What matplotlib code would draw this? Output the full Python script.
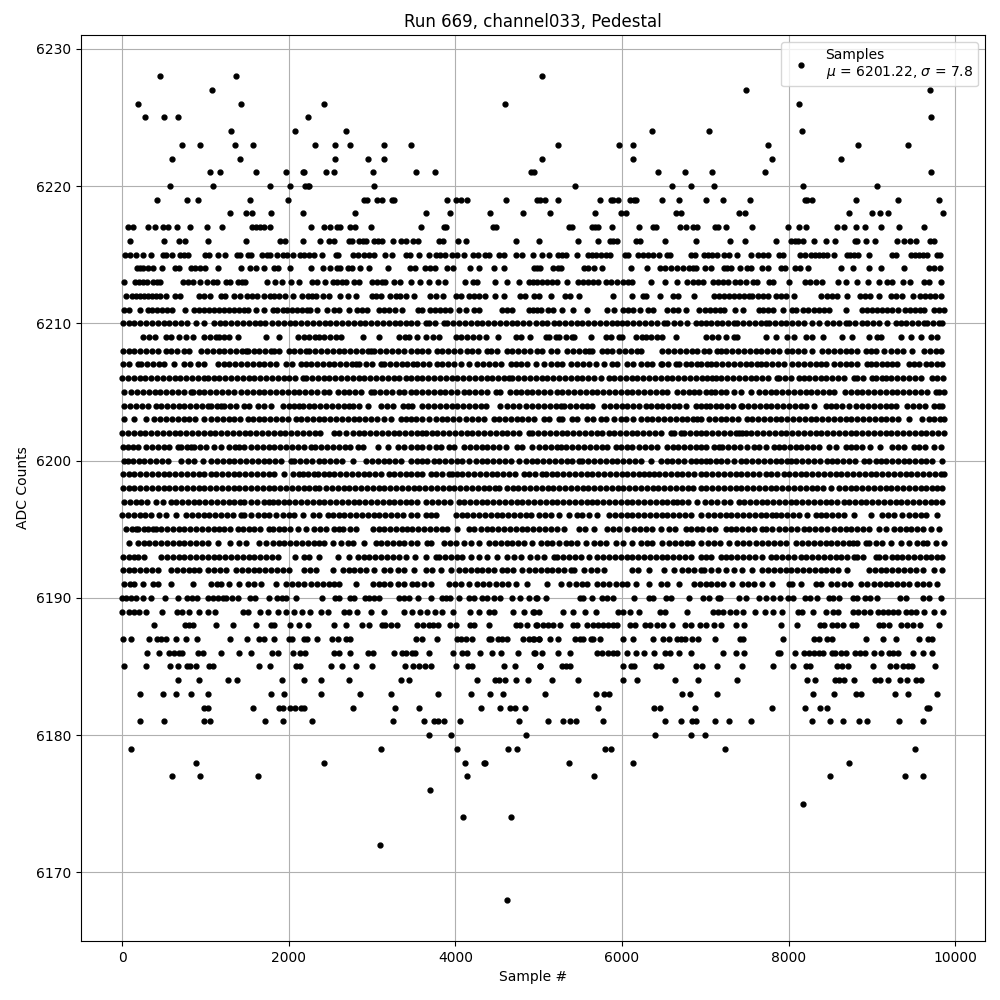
import numpy as np
import matplotlib
matplotlib.use('Agg')
import matplotlib.pyplot as plt

# sample numbers, one list per ADC level
s6228 = [452, 1364, 5040]
s6227 = [1076, 7488, 9700]
s6226 = [188, 1424, 2420, 4592, 8124]
s6225 = [272, 500, 668, 2228, 9708]
s6224 = [1304, 2072, 2684, 6360, 7044, 8160]
s6223 = [716, 932, 1352, 1568, 2312, 2552, 2732, 3140, 3464, 5232, 5964, 6132, 7752, 8832, 9432]
s6222 = [596, 1412, 2552, 2948, 3140, 5040, 6132, 7800, 8628]
s6221 = [1052, 1172, 1604, 1968, 2168, 2188, 2444, 2540, 3008, 3524, 3752, 4912, 4940, 6432, 6756, 7080, 7716, 9708]
s6220 = [572, 1088, 1772, 2012, 2200, 2228, 2248, 3020, 5436, 6600, 6828, 7104, 8172, 9060]
s6219 = [416, 776, 908, 1532, 1988, 2900, 2940, 3056, 3116, 3236, 3268, 3896, 4012, 4068, 4140, 4604, 4980, 5012, 5076,
         5232, 5736, 5868, 5892, 5952, 6096, 6140, 6172, 6480, 6684, 7008, 7212, 7536, 8196, 8220, 8280, 8808, 9312, 9804]
s6218 = [1292, 1492, 1560, 1784, 2168, 2792, 3644, 3932, 4412, 4808, 5136, 5676, 5988, 6048, 6648, 6708, 7404, 7476, 8724,
         9000, 9096, 9192, 9852]
s6217 = [76, 132, 308, 392, 488, 548, 656, 812, 1016, 1196, 1556, 1604, 1652, 1700, 1772, 2264, 2420, 2500, 2580, 2620,
         2732, 2792, 2984, 3584, 3860, 3884, 4452, 4488, 5364, 5400, 5640, 5676, 5712, 5880, 6204, 6372, 6412, 6696, 6768,
         6852, 6900, 7116, 7152, 7248, 7560, 7992, 8124, 8208, 8580, 8664, 8808, 8916, 9108, 9324, 9624]
s6216 = [92, 500, 680, 752, 1028, 1484, 1892, 1952, 2168, 2372, 2480, 2540, 2720, 2760, 2840, 2888, 2932, 3020, 3068, 3120,
         3248, 3344, 3404, 3488, 3548, 3800, 3848, 4028, 4124, 4724, 5004, 5472, 5712, 5856, 5892, 5940, 6168, 6216, 6516,
         6888, 7296, 7476, 7848, 8028, 8076, 8112, 8172, 8304, 8448, 8556, 8796, 8820, 8928, 9036, 9300, 9384, 9456, 9528,
         9696, 9744]
s6215 = [40, 100, 164, 248, 344, 488, 524, 596, 692, 740, 788, 992, 1040, 1148, 1232, 1380, 1412, 1508, 1548, 1680, 1740,
         1780, 1860, 1932, 1980, 2052, 2140, 2188, 2244, 2300, 2396, 2564, 2596, 2768, 2828, 2900, 2960, 3020, 3152, 3240,
         3404, 3460, 3560, 3680, 3764, 3820, 3872, 3960, 4020, 4100, 4208, 4272, 4356, 4404, 4520, 4580, 4724, 4796, 4932,
         5040, 5124, 5232, 5280, 5328, 5456, 5592, 5640, 5688, 5748, 5808, 5856, 6036, 6072, 6192, 6252, 6312, 6372, 6444,
         6540, 6576, 6828, 6876, 6984, 7032, 7080, 7140, 7224, 7284, 7380, 7548, 7632, 7692, 7752, 7884, 7932, 8136, 8196,
         8268, 8316, 8364, 8412, 8460, 8544, 8700, 8732, 8784, 8832, 8964, 9240, 9292, 9468, 9516, 9564, 9612, 9660, 9780, 9812]
s6214 = [180, 220, 248, 308, 372, 476, 632, 680, 824, 872, 932, 992, 1148, 1424, 1532, 1604, 1700, 1820, 1868, 2012, 2264,
         2408, 2492, 2580, 2620, 2708, 2760, 2852, 2964, 3188, 3452, 3512, 3632, 3692, 3752, 3896, 3968, 4172, 4280, 4460,
         4580, 4944, 4980, 5020, 5172, 5232, 5272, 5544, 5592, 5664, 5760, 6108, 6300, 6456, 6516, 6588, 6660, 6732, 6804,
         6852, 6888, 6996, 7068, 7224, 7260, 7308, 7416, 7500, 7548, 7680, 7752, 7908, 7956, 8076, 8136, 8232, 8628, 8772,
         8964, 9108, 9384, 9684, 9744, 9816]
s6213 = [20, 152, 200, 248, 300, 368, 416, 460, 728, 788, 848, 932, 1024, 1088, 1136, 1244, 1292, 1388, 1436, 1476, 1736,
         1832, 1916, 2024, 2120, 2276, 2340, 2432, 2528, 2580, 2640, 2684, 2780, 2840, 2996, 3060, 3120, 3160, 3260, 3332,
         3464, 3580, 3680, 3788, 3872, 4112, 4208, 4260, 4472, 4616, 4764, 4880, 4932, 4980, 5040, 5100, 5160, 5220, 5340,
         5472, 5532, 5592, 5652, 5712, 5808, 5868, 5940, 6012, 6072, 6120, 6348, 6516, 6660, 6780, 6852, 6912, 6972, 7092,
         7152, 7212, 7272, 7356, 7412, 7492, 7572, 7620, 7764, 7812, 8004, 8196, 8252, 8332, 8400, 8592, 8688, 8820, 8948,
         9084, 9180, 9244, 9372, 9456, 9624, 9684, 9828]
s6212 = [44, 116, 164, 212, 260, 308, 356, 404, 452, 524, 632, 692, 920, 980, 1052, 1184, 1232, 1340, 1412, 1500, 1560, 1620,
         1700, 1772, 1820, 1880, 1952, 2048, 2156, 2228, 2276, 2324, 2408, 2480, 2612, 2708, 2804, 3000, 3044, 3104, 3212,
         3284, 3340, 3404, 3500, 3692, 3764, 3848, 4004, 4064, 4160, 4220, 4280, 4360, 4472, 4580, 4780, 4832, 4944, 5004,
         5144, 5316, 5380, 5484, 5892, 6120, 6252, 6292, 6456, 6612, 6672, 6864, 7104, 7164, 7224, 7284, 7344, 7404, 7464,
         7524, 7560, 7632, 7692, 7752, 7848, 7908, 7968, 8064, 8392, 8460, 8520, 8580, 8700, 8856, 8916, 8976, 9084, 9228,
         9288, 9360, 9492, 9576, 9636, 9696, 9756, 9828]
s6211 = [20, 80, 220, 308, 360, 420, 480, 540, 600, 760, 860, 920, 980, 1040, 1100, 1160, 1220, 1280, 1340, 1400, 1460, 1508,
         1604, 1700, 1808, 1860, 1928, 1980, 2040, 2100, 2160, 2220, 2260, 2340, 2456, 2540, 2600, 2720, 2820, 2880, 2936,
         3080, 3140, 3200, 3280, 3360, 3548, 3604, 3700, 3760, 3820, 3880, 3940, 4040, 4124, 4220, 4280, 4560, 4620, 4680,
         4880, 4932, 4980, 5032, 5112, 5172, 5280, 5412, 5580, 5820, 5904, 6012, 6072, 6132, 6216, 6312, 6372, 6540, 6612,
         6672, 6768, 6924, 6992, 7052, 7112, 7172, 7224, 7356, 7452, 7644, 7692, 7752, 7812, 7932, 8040, 8092, 8172, 8232,
         8304, 8364, 8424, 8484, 8688, 8880, 8940, 9000, 9060, 9120, 9180, 9240, 9312, 9392, 9452, 9512, 9576, 9624, 9744,
         9804, 9864]
s6210 = [8, 78, 148, 218, 288, 358, 428, 498, 568, 638, 708, 778, 890, 980, 1100, 1170, 1240, 1310, 1380, 1450, 1520, 1590,
         1660, 1720, 1800, 1870, 1940, 2010, 2080, 2150, 2220, 2290, 2360, 2430, 2500, 2570, 2640, 2710, 2780, 2850, 2920,
         2990, 3060, 3130, 3200, 3270, 3340, 3410, 3468, 3540, 3645, 3685, 3755, 3865, 3905, 3975, 4045, 4115, 4185, 4255,
         4325, 4395, 4465, 4535, 4605, 4675, 4745, 4815, 4885, 4965, 5035, 5105, 5185, 5245, 5315, 5385, 5455, 5525, 5595,
         5665, 5735, 5805, 5875, 5945, 6005, 6065, 6135, 6205, 6275, 6345, 6425, 6505, 6545, 6625, 6695, 6785, 6885, 6945,
         7004, 7074, 7144, 7204, 7274, 7344, 7384, 7454, 7524, 7594, 7664, 7724, 7764, 7834, 7904, 7974, 8044, 8114, 8184,
         8284, 8364, 8464, 8534, 8604, 8684, 8724, 8794, 8884, 8944, 9014, 9084, 9184, 9284, 9354, 9404, 9484, 9554, 9624,
         9664, 9734, 9804, 9844]
s6209 = [248, 328, 398, 528, 588, 688, 768, 848, 988, 1058, 1128, 1168, 1228, 1288, 1388, 1728, 1888, 2108, 2178, 2248, 2318,
         2368, 2428, 2498, 2568, 2628, 2896, 3088, 3328, 3398, 3445, 3537, 3645, 3737, 3805, 4005, 4065, 4145, 4215, 4285,
         4365, 4517, 4725, 4785, 4897, 5085, 5125, 5205, 5245, 5325, 5395, 5425, 5625, 5805, 5865, 5965, 6005, 6165, 6235,
         6285, 6345, 6415, 6485, 6645, 7004, 7084, 7156, 7252, 7344, 7384, 7732, 7852, 7984, 8064, 8212, 8284, 8412, 8644,
         8764, 8964, 9064, 9104, 9344, 9464, 9584, 9704, 9784]
s6208 = [8, 78, 148, 218, 288, 358, 428, 528, 588, 658, 748, 808, 948, 1018, 1088, 1168, 1228, 1298, 1368, 1438, 1488, 1508,
         1578, 1648, 1718, 1788, 1828, 1888, 2008, 2068, 2140, 2208, 2248, 2318, 2388, 2458, 2528, 2598, 2668, 2738, 2808,
         2878, 2948, 2988, 3028, 3098, 3168, 3238, 3308, 3378, 3468, 3535, 3605, 3675, 3785, 3845, 3915, 3985, 4055, 4145,
         4205, 4275, 4385, 4425, 4495, 4625, 4685, 4755, 4825, 4895, 4985, 5045, 5145, 5225, 5345, 5415, 5485, 5555, 5605,
         5645, 5765, 5817, 5885, 5965, 6035, 6105, 6175, 6225, 6485, 6555, 6625, 6695, 6765, 6835, 6905, 6984, 7044, 7144,
         7184, 7254, 7324, 7394, 7464, 7534, 7604, 7674, 7744, 7814, 7884, 7984, 8044, 8114, 8184, 8284, 8404, 8474, 8544,
         8614, 8684, 8754, 8824, 8924, 8984, 9044, 9144, 9224, 9304, 9374, 9484, 9624, 9694, 9764, 9824]
s6207 = [8, 78, 188, 228, 298, 368, 438, 508, 628, 748, 818, 908, 980, 1148, 1218, 1288, 1358, 1428, 1498, 1568, 1638, 1708,
         1778, 1848, 1968, 2040, 2148, 2208, 2268, 2338, 2408, 2478, 2548, 2618, 2688, 2758, 2808, 2848, 2928, 2998, 3108,
         3148, 3218, 3288, 3358, 3425, 3497, 3545, 3615, 3685, 3785, 3845, 3915, 3985, 4065, 4165, 4265, 4335,
         4405, 4475, 4545, 4665, 4725, 4785, 4857, 4965, 5065, 5145, 5215, 5285, 5385, 5465, 5535, 5605, 5685, 5785, 5885,
         5945, 6065, 6137, 6225, 6295, 6365, 6465, 6485, 6555, 6645, 6685, 6765, 6825, 6895, 6945, 7024,
         7064, 7134, 7204, 7274, 7344, 7414, 7484, 7554, 7624, 7664, 7734, 7804, 7874, 7944, 8044, 8114, 8184, 8254, 8324,
         8384, 8452, 8544, 8614, 8684, 8754, 8824, 8944, 8984, 9054, 9124, 9184, 9244, 9304, 9444, 9504, 9564, 9644, 9714,
         9784, 9844]
s6206 = [0, 70, 140, 210, 280, 350, 420, 490, 560, 630, 700, 770, 840, 910, 988, 1028, 1098, 1168, 1238, 1308, 1378, 1448,
         1518, 1588, 1658, 1728, 1798, 1868, 1938, 2008, 2078, 2168, 2208, 2278, 2348, 2418, 2488, 2558, 2628, 2698, 2768,
         2838, 2908, 2978, 3048, 3118, 3188, 3258, 3328, 3408, 3465, 3535, 3605, 3675, 3745, 3815, 3885, 3955, 4025, 4095,
         4165, 4235, 4305, 4375, 4445, 4515, 4585, 4645, 4685, 4755, 4825, 4895, 4965, 5035, 5105, 5175, 5245, 5315, 5385,
         5455, 5525, 5595, 5665, 5745, 5845, 5905, 5975, 6045, 6115, 6185, 6255, 6325, 6395, 6465, 6535, 6605, 6675, 6745,
         6815, 6885, 6955, 7025, 7084, 7124, 7194, 7264, 7334, 7404, 7474, 7544, 7614, 7684, 7754, 7864, 7884, 7954, 8024,
         8124, 8184, 8244, 8314, 8384, 8454, 8524, 8594, 8664, 8784, 8824, 8894, 9004, 9044, 9124, 9164, 9234, 9304, 9374,
         9444, 9514, 9584, 9724, 9784, 9856]
s6205 = [20, 108, 180, 250, 320, 390, 460, 530, 600, 670, 740, 828, 848, 918, 988, 1058, 1128, 1198, 1268, 1348, 1428, 1498,
         1568, 1638, 1708, 1778, 1848, 1918, 1988, 2058, 2128, 2198, 2268, 2338, 2428, 2488, 2588, 2658, 2728, 2798, 2868,
         2988, 3028, 3098, 3168, 3238, 3328, 3388, 3468, 3530, 3600, 3670, 3740, 3810, 3880, 3950, 4020, 4105, 4165, 4235,
         4305, 4375, 4485, 4537, 4657, 4725, 4785, 4855, 4925, 4995, 5065, 5135, 5217, 5285, 5355, 5425, 5495, 5565, 5635,
         5705, 5775, 5845, 5915, 5985, 6055, 6125, 6195, 6265, 6335, 6405, 6475, 6545, 6665, 6737, 6807, 6865, 6925, 7004,
         7074, 7114, 7184, 7254, 7344, 7424, 7552, 7644, 7714, 7784, 7854, 7924, 7994, 8064, 8134, 8204,
         8274, 8344, 8414, 8484, 8544, 8676, 8746, 8816, 8886, 8956, 9026, 9096, 9166, 9236, 9306, 9376, 9446, 9516, 9586,
         9656, 9764, 9804, 9864]
s6204 = [28, 98, 168, 238, 308, 408, 468, 538, 608, 678, 748, 818, 888, 958, 1028, 1068, 1138, 1188, 1228, 1298, 1368, 1468,
         1528, 1628, 1698, 1788, 1928, 1998, 2068, 2128, 2168, 2238, 2308, 2378, 2448, 2518, 2588, 2658, 2728, 2768, 2838,
         2948, 3108, 3178, 3248, 3368, 3428, 3485, 3605, 3675, 3745, 3815, 3885, 3955, 4025, 4095, 4165, 4235, 4305, 4365,
         4537, 4625, 4697, 4765, 4845, 4925, 4995, 5065, 5135, 5205, 5265, 5305, 5375, 5445, 5515, 5585, 5645, 5785, 5855,
         5925, 5995, 6065, 6135, 6205, 6285, 6345, 6415, 6485, 6555, 6625, 6685, 6765, 6885, 6945, 7014,
         7054, 7124, 7194, 7264, 7334, 7424, 7444, 7514, 7584, 7654, 7724, 7794, 7864, 7934, 8004, 8074, 8144, 8204, 8304,
         8444, 8504, 8564, 8644, 8724, 8804, 8884, 8954, 9024, 9094, 9164, 9234, 9284, 9424, 9494, 9564, 9634, 9744, 9804, 9844]
s6203 = [20, 148, 288, 388, 458, 528, 598, 668, 738, 808, 878, 988, 1068, 1138, 1208, 1278, 1348, 1418, 1508, 1568, 1638, 1708,
         1778, 1848, 1918, 1988, 2088, 2148, 2218, 2288, 2358, 2428, 2498, 2568, 2638, 2708, 2778, 2848, 2918, 2988, 3058,
         3148, 3228, 3348, 3408, 3468, 3525, 3595, 3685, 3765, 3835, 3905, 3975, 4045, 4125, 4205, 4275, 4345,
         4465, 4525, 4595, 4665, 4735, 4805, 4875, 4945, 5065, 5125, 5245, 5285, 5405, 5465, 5585, 5655, 5745, 5805, 5905,
         5985, 6053, 6133, 6225, 6295, 6365, 6435, 6505, 6575, 6645, 6715, 6785, 6855, 6905, 6952, 7044, 7114, 7184,
         7254, 7324, 7394, 7504, 7564, 7634, 7704, 7774, 7844, 7914, 7984, 8054, 8124, 8194, 8264, 8334, 8404, 8474, 8544,
         8614, 8684, 8754, 8824, 8894, 8964, 9034, 9104, 9174, 9244, 9314, 9444, 9604, 9684, 9744, 9814, 9864]
s6202 = [0, 70, 140, 210, 280, 350, 420, 490, 560, 630, 700, 770, 840, 910, 980, 1050, 1120, 1190, 1260, 1330, 1400, 1470, 1540,
         1610, 1680, 1750, 1820, 1890, 1960, 2030, 2100, 2170, 2240, 2310, 2380, 2548, 2608, 2688, 2768, 2838, 2908, 2978,
         3048, 3118, 3188, 3258, 3328, 3398, 3468, 3535, 3605, 3645, 3715, 3785, 3855, 3925, 3995, 4065, 4135, 4205, 4275,
         4345, 4415, 4485, 4555, 4625, 4695, 4765, 4885, 4925, 4995, 5065, 5135, 5205, 5275, 5345, 5415, 5485, 5555, 5625,
         5695, 5765, 5845, 5905, 5975, 6045, 6115, 6185, 6255, 6325, 6395, 6465, 6585, 6625, 6705, 6745, 6815, 6885, 6945,
         7014, 7084, 7154, 7224, 7294, 7364, 7404, 7444, 7484, 7554, 7624, 7694, 7764, 7834, 7904, 7974, 8044, 8114, 8184,
         8254, 8324, 8394, 8464, 8534, 8604, 8674, 8744, 8814, 8884, 8954, 9024, 9094, 9164, 9234, 9304, 9374, 9444, 9514,
         9584, 9654, 9724, 9794, 9864]
s6201 = [8, 68, 128, 188, 288, 358, 428, 498, 568, 668, 708, 778, 828, 868, 938, 1008, 1108, 1188, 1288, 1358, 1408, 1468, 1548,
         1618, 1688, 1758, 1828, 1898, 1968, 2038, 2108, 2178, 2268, 2316, 2388, 2460, 2530, 2600, 2670, 2740, 2828, 2896,
         3068, 3188, 3308, 3378, 3468, 3535, 3605, 3685, 3765, 3825, 3925, 3985, 4105, 4175, 4245, 4315, 4385, 4455, 4525,
         4605, 4745, 4805, 4917, 5005, 5075, 5145, 5215, 5265, 5333, 5405, 5475, 5545, 5615, 5685, 5755, 5825, 5925, 5985,
         6055, 6125, 6205, 6275, 6345, 6425, 6537, 6607, 6677, 6747, 6817, 6887, 6945, 7004, 7104, 7164, 7204, 7274, 7344,
         7414, 7504, 7584, 7644, 7732, 7824, 7884, 7944, 8014, 8084, 8154, 8224, 8294, 8364, 8484, 8564, 8684, 8744, 8814,
         8884, 8972, 9096, 9244, 9314, 9384, 9504, 9564, 9634, 9744, 9832]
s6200 = [28, 68, 128, 198, 268, 338, 408, 478, 548, 708, 788, 858, 968, 1068, 1138, 1208, 1278, 1348, 1418, 1488, 1558, 1628,
         1698, 1768, 1838, 1908, 2028, 2068, 2138, 2208, 2278, 2368, 2428, 2498, 2568, 2638, 2768, 2928, 2998, 3068, 3138,
         3208, 3278, 3348, 3468, 3545, 3605, 3665, 3745, 3805, 3875, 3945, 4015, 4085, 4165, 4245, 4315, 4385, 4455, 4525,
         4595, 4665, 4765, 4845, 4915, 4985, 5055, 5125, 5195, 5265, 5335, 5405, 5485, 5525, 5595, 5665, 5735, 5805, 5875,
         5945, 6015, 6085, 6155, 6225, 6345, 6465, 6535, 6605, 6675, 6745, 6825, 6885, 6945, 7014, 7054,
         7124, 7194, 7264, 7344, 7424, 7494, 7564, 7634, 7704, 7774, 7844, 7914, 7984, 8024, 8094, 8164, 8234, 8304, 8374,
         8464, 8516, 8586, 8656, 8726, 8796, 8904, 8964, 9044, 9104, 9174, 9244, 9314, 9384, 9444, 9512, 9584, 9654, 9724, 9844]
s6199 = [8, 88, 148, 218, 288, 358, 428, 498, 568, 638, 708, 778, 848, 918, 988, 1068, 1128, 1198, 1268, 1338, 1408, 1478, 1548,
         1618, 1688, 1758, 1828, 1940, 2048, 2118, 2168, 2228, 2308, 2348, 2418, 2488, 2548, 2618, 2688, 2758, 2828, 2898,
         2968, 3038, 3108, 3208, 3268, 3338, 3408, 3468, 3535, 3605, 3705, 3765, 3835, 3925, 3965, 4025, 4085, 4155, 4225,
         4295, 4365, 4435, 4505, 4575, 4645, 4715, 4825, 4885, 4955, 5045, 5085, 5155, 5225, 5295, 5365, 5435, 5505, 5575,
         5645, 5715, 5785, 5855, 5925, 5995, 6065, 6135, 6205, 6265, 6325, 6385, 6445, 6515, 6585, 6655, 6725, 6795, 6865,
         6945, 7014, 7084, 7154, 7224, 7294, 7364, 7434, 7504, 7574, 7644, 7724, 7794, 7864, 7944, 8004, 8074, 8144, 8214,
         8284, 8354, 8424, 8494, 8564, 8634, 8704, 8774, 8844, 8914, 8984, 9054, 9124, 9194, 9264, 9334, 9404, 9474, 9544,
         9614, 9684, 9754, 9824, 9864]
s6198 = [8, 78, 148, 218, 288, 358, 428, 498, 568, 638, 708, 778, 848, 918, 988, 1058, 1128, 1198, 1268, 1338, 1408, 1478, 1548,
         1618, 1688, 1758, 1828, 1898, 1968, 2038, 2108, 2178, 2248, 2318, 2368, 2448, 2518, 2588, 2658, 2728, 2798, 2868,
         2938, 3008, 3078, 3148, 3218, 3288, 3358, 3428, 3498, 3568, 3638, 3708, 3778, 3848, 3918, 3988, 4058, 4128, 4198,
         4268, 4338, 4408, 4478, 4525, 4617, 4687, 4757, 4827, 4897, 4967, 5037, 5107, 5177, 5247, 5317, 5387, 5457, 5527,
         5597, 5667, 5737, 5807, 5877, 5947, 6017, 6087, 6157, 6227, 6297, 6367, 6437, 6507, 6577, 6647, 6717, 6787, 6857,
         6945, 7014, 7084, 7154, 7224, 7294, 7364, 7434, 7504, 7574, 7644, 7714, 7784, 7854, 7924, 7994, 8064, 8134, 8204,
         8284, 8344, 8414, 8504, 8604, 8674, 8744, 8814, 8884, 8954, 9024, 9094, 9164, 9234, 9304, 9374, 9444, 9514, 9584,
         9654, 9724, 9784, 9844]
s6197 = [28, 98, 168, 228, 298, 408, 488, 588, 648, 718, 788, 858, 928, 998, 1068, 1138, 1208, 1278, 1348, 1418, 1468, 1548, 1618,
         1708, 1768, 1808, 1868, 1938, 2008, 2078, 2148, 2218, 2288, 2358, 2428, 2498, 2568, 2638, 2708, 2778, 2848, 2918,
         2988, 3058, 3128, 3198, 3268, 3338, 3408, 3468, 3535, 3645, 3725, 3795, 3865, 3937, 4045, 4105, 4175, 4245, 4315,
         4385, 4455, 4525, 4595, 4665, 4735, 4805, 4875, 4945, 5015, 5085, 5155, 5225, 5295, 5365, 5435, 5505, 5575, 5645,
         5705, 5775, 5845, 5915, 5985, 6055, 6125, 6195, 6265, 6335, 6405, 6475, 6545, 6615, 6665, 6725, 6795, 6905,
         6994, 7064, 7144, 7224, 7294, 7404, 7464, 7534, 7604, 7684, 7744, 7814, 7884, 7954, 8024, 8094, 8164, 8234,
         8304, 8374, 8444, 8514, 8584, 8664, 8724, 8794, 8864, 8934, 9004, 9074, 9144, 9214, 9284, 9354, 9424, 9494, 9564,
         9634, 9704, 9774, 9844]
s6196 = [0, 70, 140, 210, 280, 350, 448, 528, 648, 768, 838, 908, 978, 1048, 1118, 1188, 1258, 1328, 1428, 1468, 1548, 1628, 1698,
         1768, 1848, 1928, 1998, 2068, 2168, 2288, 2358, 2468, 2528, 2598, 2668, 2738, 2808, 2878, 2948, 3018, 3088, 3158,
         3228, 3298, 3368, 3468, 3535, 3645, 3705, 3765, 4005, 4075, 4145, 4215, 4285, 4355, 4425, 4495, 4565, 4635, 4705,
         4775, 4845, 4905, 5005, 5075, 5145, 5245, 5365, 5465, 5525, 5605, 5705, 5845, 5915, 5985, 6055, 6125, 6195, 6265,
         6335, 6405, 6475, 6545, 6615, 6685, 6755, 6825, 6945, 7034, 7104, 7174, 7244, 7314, 7384,
         7454, 7524, 7594, 7664, 7734, 7804, 7844, 7914, 7984, 8054, 8124, 8224, 8324, 8384, 8444, 8524, 8594, 8664, 8784,
         8984, 9124, 9194, 9264, 9364, 9444, 9514, 9584, 9654, 9784]
s6195 = [48, 118, 168, 188, 258, 308, 368, 408, 468, 538, 608, 678, 748, 818, 888, 958, 1028, 1098, 1168, 1228, 1298, 1388, 1448,
         1518, 1588, 1658, 1768, 1808, 1878, 1948, 2018, 2108, 2208, 2308, 2378, 2448, 2548, 2608, 2648, 2740, 2808, 3008,
         3078, 3148, 3218, 3288, 3358, 3415, 3485, 3555, 3625, 3695, 3765, 3835, 3905, 4025, 4165, 4225, 4305, 4375,
         4445, 4515, 4585, 4655, 4725, 4795, 4865, 4935, 5005, 5075, 5145, 5215, 5305, 5485, 5555, 5665, 5825, 5895, 5965,
         6065, 6145, 6215, 6285, 6355, 6465, 6565, 6635, 6765, 6825, 6895, 6964, 7044, 7114, 7244,
         7304, 7374, 7444, 7514, 7584, 7684, 7732, 7802, 7884, 7956, 8026, 8096, 8184, 8244, 8314, 8384, 8464, 8544, 8614,
         8684, 8754, 8824, 8894, 8964, 9084, 9172, 9264, 9334, 9404, 9474, 9544, 9614, 9704, 9804]
s6194 = [88, 188, 258, 328, 398, 468, 538, 608, 678, 748, 818, 888, 958, 1028, 1148, 1300, 1408, 1488, 1648, 1728, 1808, 1878,
         1948, 2018, 2088, 2158, 2228, 2298, 2368, 2428, 2528, 2628, 2708, 2768, 2908, 3048, 3108, 3178, 3248, 3318, 3388,
         3468, 3545, 3657, 3705, 3865, 3935, 4005, 4105, 4185, 4285, 4405, 4475, 4545, 4615, 4685, 4755, 4825, 4925, 5025,
         5095, 5165, 5245, 5325, 5385, 5455, 5565, 5665, 5735, 5805, 5925, 6013, 6125, 6225, 6295, 6365, 6485, 6565, 6635,
         6705, 6775, 6845, 6945, 7034, 7104, 7174, 7284, 7384, 7454, 7524, 7612, 7684, 7754, 7824,
         7894, 7964, 8084, 8164, 8234, 8304, 8374, 8444, 8514, 8584, 8654, 8724, 8772, 8824, 8924, 8964, 9044, 9124, 9224,
         9344, 9444, 9544, 9614, 9664, 9764, 9864]
s6193 = [8, 78, 148, 188, 268, 468, 538, 608, 678, 748, 818, 888, 958, 1028, 1098, 1168, 1238, 1308, 1378, 1448, 1518, 1588, 1658,
         1728, 1798, 1868, 2080, 2180, 2248, 2368, 2588, 2728, 2828, 2898, 2968, 3038, 3108, 3178, 3248, 3318, 3408, 3513,
         3645, 3765, 3805, 3875, 3945, 4015, 4085, 4185, 4285, 4385, 4505, 4625, 4705, 4785, 4897, 4985, 5065, 5185, 5225,
         5295, 5365, 5435, 5505, 5605, 5705, 5775, 5845, 5915, 5985, 6055, 6125, 6195, 6265, 6335, 6405, 6475, 6545, 6615,
         6685, 6755, 6825, 6945, 7004, 7074, 7184, 7244, 7314, 7384, 7454, 7524, 7594, 7684, 7784, 7854,
         7924, 7994, 8064, 8144, 8204, 8284, 8354, 8424, 8494, 8564, 8634, 8704, 8784, 8824, 8894, 9044, 9084, 9154, 9244,
         9304, 9364, 9434, 9504, 9574, 9644, 9714, 9784, 9844]
s6192 = [8, 78, 148, 218, 288, 358, 428, 588, 658, 728, 798, 868, 928, 1028, 1108, 1178, 1248, 1368, 1438, 1508, 1578, 1648, 1718,
         1788, 1858, 1928, 2008, 2188, 2258, 2328, 2528, 2648, 2718, 2788, 2858, 2928, 3028, 3148, 3218, 3308, 3388, 3505,
         3645, 3725, 3825, 3945, 4045, 4115, 4185, 4255, 4325, 4395, 4465, 4565, 4625, 4695, 4805, 4885, 4955, 5025, 5095,
         5165, 5235, 5305, 5385, 5425, 5545, 5625, 5695, 5785, 6125, 6195, 6325, 6505, 6625, 6725, 6795, 6865, 6945,
         6984, 7064, 7156, 7244, 7344, 7444, 7564, 7684, 7754, 7824, 7894, 7964, 8034, 8104, 8174, 8244, 8314,
         8384, 8454, 8524, 8594, 8704, 8964, 9034, 9104, 9174, 9244, 9314, 9384, 9454, 9524, 9612, 9744, 9844]
s6191 = [20, 90, 148, 248, 368, 428, 588, 848, 1068, 1138, 1188, 1288, 1408, 1508, 1578, 1668, 1848, 1968, 2038, 2108, 2188, 2268,
         2338, 2408, 2478, 2548, 2608, 2808, 3008, 3078, 3148, 3218, 3308, 3388, 3485, 3545, 3625, 3705, 3925, 3995, 4065, 4165,
         4265, 4335, 4405, 4485, 4565, 4635, 4725, 4865, 5105, 5265, 5365, 5445, 5525, 5585, 5705, 5775, 5845, 5925, 6005,
         6065, 6165, 6325, 6465, 6545, 6685, 6865, 6934, 7004, 7074, 7144, 7214, 7324, 7444, 7514, 7584, 7684,
         7804, 8004, 8044, 8144, 8324, 8394, 8504, 8584, 8664, 8734, 8864, 8944, 9024, 9094, 9164, 9224, 9304, 9374, 9444,
         9544, 9614, 9684, 9784]
s6190 = [0, 52, 112, 172, 248, 344, 512, 668, 776, 836, 896, 1028, 1088, 1148, 1208, 1244, 1316, 1388, 1532, 1592, 1768, 1856,
         1916, 1964, 2084, 2396, 2552, 2600, 2732, 2780, 2912, 2960, 3020, 3080, 3320, 3380, 3440, 3548, 3712, 3836, 3884,
         3940, 4040, 4160, 4220, 4316, 4380, 4460, 4532, 4676, 4772, 4880, 4980, 4964, 5092, 5492, 5532, 5640, 5760, 5820,
         5892, 6144, 6324, 6372, 6532, 6592, 6800, 6972, 7044, 7152, 7180, 7404, 7492, 7644, 7724, 7812, 7896, 7992, 8052,
         8196, 8256, 8340, 8484, 8532, 8604, 8772, 8820, 8912, 8972, 9060, 9332, 9404, 9612, 9684, 9832]
s6189 = [0, 80, 140, 200, 284, 476, 656, 716, 800, 920, 1032, 1112, 1448, 1508, 1652, 1756, 1868, 1964, 2060, 2156, 2252, 2388,
         2468, 2660, 2720, 2816, 2984, 3140, 3380, 3480, 3572, 3660, 3760, 3836, 3968, 4172, 4280, 4400, 4460, 4688, 4820,
         4948, 4932, 5004, 5292, 5412, 5556, 5692, 5952, 6012, 6092, 6204, 6456, 6516, 6780, 7092, 7152, 7212, 7292, 7372,
         7452, 7596, 7716, 7812, 7920, 8112, 8164, 8292, 8444, 8532, 8592, 8772, 8832, 8904, 8972, 9072, 9132, 9192, 9252,
         9312, 9412, 9472, 9532, 9628, 9748, 9852]
s6188 = [380, 760, 800, 848, 1124, 1328, 1604, 1788, 1820, 2012, 2120, 2228, 2540, 2684, 2876, 2960, 3120, 3152, 3224, 3296,
         3536, 3608, 3680, 3728, 3788, 3932, 4004, 4172, 4228, 4400, 4724, 4772, 4856, 4980, 4964, 5052, 5112, 5172, 5252,
         5412, 5460, 5580, 5652, 5712, 5772, 5832, 5892, 5940, 6092, 6156, 6276, 6332, 6420, 6492, 6600, 6760, 6828, 6932,
         7004, 7104, 7188, 7372, 7468, 7908, 8100, 8376, 8424, 8520, 8580, 8652, 8760, 8812, 9080, 9132, 9204, 9348, 9420,
         9492, 9576, 9804]
s6187 = [8, 112, 320, 416, 464, 524, 644, 764, 896, 1292, 1496, 1640, 1700, 1820, 2000, 2040, 2180, 2220, 2336, 2516, 2588,
         2684, 2732, 3524, 3596, 3784, 4020, 4068, 4124, 4196, 4400, 4428, 4512, 4560, 4616, 4812, 4880, 4940, 5000, 4932,
         5004, 5140, 5232, 5436, 5492, 5532, 5628, 5652, 5736, 6012, 6132, 6372, 6492, 6564, 6660, 6712, 6760, 6840, 6912,
         7116, 7416, 7452, 7932, 8304, 8364, 8460, 8520, 8932, 9132, 9292, 9564, 9672, 9720]
s6186 = [296, 448, 560, 620, 680, 716, 908, 968, 1184, 1400, 1552, 1796, 1868, 2048, 2140, 2200, 2540, 2600, 2740, 2948, 3008,
         3260, 3356, 3404, 3476, 3512, 3680, 3968, 4076, 4140, 4292, 4444, 4544, 4748, 4952, 4944, 5044, 5232, 5372, 5700,
         5760, 5832, 5892, 5940, 6060, 6168, 6264, 6384, 6516, 6576, 6684, 6828, 7212, 7372, 7464, 7868, 7900, 8076, 8184,
         8244, 8304, 8364, 8412, 8520, 8556, 8628, 8692, 8796, 8856, 8916, 9024, 9108, 9204, 9252, 9312, 9492, 9612, 9720]
s6185 = [20, 284, 572, 668, 776, 812, 884, 1040, 1088, 1640, 1772, 2084, 2132, 2504, 2636, 2804, 2996, 3392, 3488, 3560, 3632,
         3704, 4004, 4148, 4196, 4580, 4712, 5012, 5016, 5280, 5332, 5376, 6012, 6108, 6144, 6408, 6468, 6888, 6960, 7140,
         7440, 7812, 8052, 8208, 8256, 8580, 8640, 8712, 9012, 9212, 9288, 9372, 9432, 9480, 9756]
s6184 = [668, 920, 1268, 1376, 1916, 2180, 2384, 2720, 3344, 3440, 4256, 4472, 4520, 4592, 4724, 4868, 5160, 5472, 6012, 6180,
         6636, 6912, 7380, 8220, 8316, 8556, 8604, 8664, 8784, 9036, 9096, 9192, 9336, 9420, 9532, 9592]
s6183 = [212, 488, 644, 824, 1028, 1784, 1940, 2384, 2852, 3224, 3788, 4184, 4412, 4568, 5076, 5688, 5784, 5844, 6720, 6816,
         7140, 8292, 8544, 8808, 8868, 9276, 9432, 9780]
s6182 = [980, 1028, 1568, 1880, 1928, 2012, 2072, 2144, 2180, 2768, 3272, 3560, 4304, 4532, 4652, 4712, 4832, 5712, 6384, 6456,
         6876, 7800, 8196, 8376, 8460, 9660, 9684]
s6181 = [212, 500, 980, 1052, 1712, 1928, 2276, 3248, 3620, 3740, 3788, 3860, 4052, 4760, 5112, 5292, 5376, 5448, 5772, 6516,
         6708, 6840, 6888, 7116, 7284, 7548, 8280, 8496, 8652, 8844, 8940, 9324, 9612]
s6180 = [3680, 3944, 4844, 6396, 6828, 6996]
s6179 = [104, 3104, 4016, 4628, 4736, 5796, 5868, 7236, 9516]
s6178 = [884, 2420, 4112, 4340, 4360, 5364, 6132, 8724]
s6177 = [596, 932, 1628, 4136, 5664, 8496, 9396, 9612]
s6176 = [3692]
s6175 = [8172]
s6174 = [4088, 4664]
s6172 = [3092]
s6168 = [4616]

rows = {6228: s6228, 6227: s6227, 6226: s6226, 6225: s6225, 6224: s6224, 6223: s6223, 6222: s6222, 6221: s6221,
        6220: s6220, 6219: s6219, 6218: s6218, 6217: s6217, 6216: s6216, 6215: s6215, 6214: s6214, 6213: s6213,
        6212: s6212, 6211: s6211, 6210: s6210, 6209: s6209, 6208: s6208, 6207: s6207, 6206: s6206, 6205: s6205,
        6204: s6204, 6203: s6203, 6202: s6202, 6201: s6201, 6200: s6200, 6199: s6199, 6198: s6198, 6197: s6197,
        6196: s6196, 6195: s6195, 6194: s6194, 6193: s6193, 6192: s6192, 6191: s6191, 6190: s6190, 6189: s6189,
        6188: s6188, 6187: s6187, 6186: s6186, 6185: s6185, 6184: s6184, 6183: s6183, 6182: s6182, 6181: s6181,
        6180: s6180, 6179: s6179, 6178: s6178, 6177: s6177, 6176: s6176, 6175: s6175, 6174: s6174, 6172: s6172,
        6168: s6168}

samples = np.concatenate([np.array(v) for v in rows.values()])
counts = np.concatenate([np.full(len(v), k) for k, v in rows.items()])

plt.figure(figsize=(10, 10))
# slightly larger dots so the hand-read rows close up like the original
plt.plot(samples, counts, 'k.', markersize=7, label='Samples\n$\\mu$ = 6201.22, $\\sigma$ = 7.8')
plt.xlabel('Sample #')
plt.ylabel('ADC Counts')
plt.title('Run 669, channel033, Pedestal')
plt.legend(loc='upper right')
plt.grid(True)
plt.subplots_adjust(left=0.081, right=0.985, top=0.965, bottom=0.059)
plt.savefig('out.png', dpi=100)
